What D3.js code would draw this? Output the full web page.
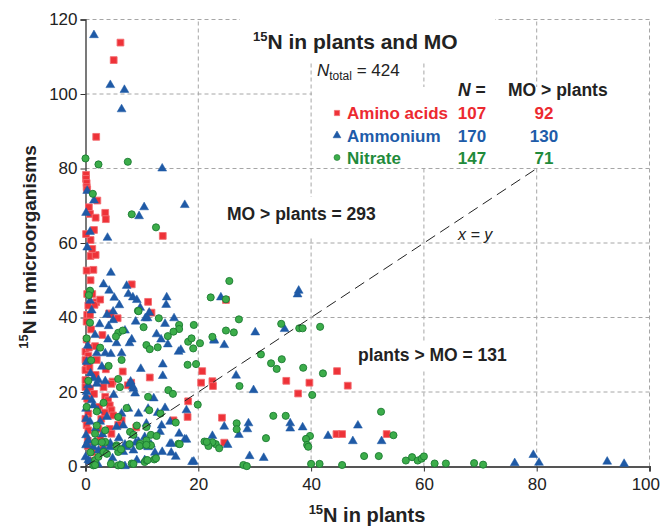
<!DOCTYPE html>
<html>
<head>
<meta charset="utf-8">
<script src="https://cdn.jsdelivr.net/npm/d3@7"></script>
<style>
  body { margin: 0; background: #fff; }
  svg { font-family: "Liberation Sans", Arial, sans-serif; }
</style>
</head>
<body>
<svg id="chart" width="660" height="529"></svg>
<script>
// values, [15N in plants, 15N in microorganisms]
const aminoAcids = [
  [6.2,113.8],[5.0,109.1],[1.9,88.5],
  [0.1,78.3],[0.1,77.2],[0.2,76.1],[0.2,75],[0.3,74.4],
  [2.1,71.4],[0.6,69.6],[0.8,67.8],[3.5,68.1],[1.8,66.8],[3.6,66.4],[13.7,61.9],[1.5,63.5],[0.9,60.8],[0.9,56.5],[1.8,56.8],[1.4,52.8],[0.9,50],[8.2,48.9],
  [0.3,46.3],[1.2,46.3],[1.9,44.1],[1.6,43.4],[11.1,44.2],[11.7,41.3],[0.3,40.7],[0.8,40.7],[4.2,41.1],[4.5,40.9],[5.7,39.8],[0.2,38.9],[24.9,44.7],
  [3.0,35.3],[0.2,34.1],[1.7,32.3],[0,30.8],[0.5,29.7],[0,28.6],[0.2,27.2],[0,25.9],[2,28.6],[3.6,26.1],[6.6,25.5],
  [20.7,25.6],[11.4,23.9],[4.8,22.8],[8.1,22.5],[20.5,22.5],[22.5,22.9],[22.6,21.6],[0,23.2],
  [0,21.3],[0.8,20.9],[3.2,21.3],[4.6,22.2],
  [3.5,18.7],[4.0,17.8],[4.3,16.4],[4.6,15.1],[4.9,13.7],
  [0.5,14.2],[0,12.8],[0.2,11.1],[0.5,9.7],[2.3,10.1],[4.3,10.1],[4.6,8.8],[6.4,12.4],
  [18.2,17.5],[18.1,13.3],[15.6,12.4],
  [35.6,23],[39.7,22.5],[46.5,21.7],[44.6,25.6],[37.7,19.6],[24.2,13.1],[44.5,8.7],[45.5,8.7],[53.4,8.7],[24.6,6.4],
  [0.4,5.5],[1.2,3.8],[2.6,7.2],[0.9,1.5],[1.5,19.5],[2.4,16],[0.3,18.2],[1.0,36.8],[0.5,43.2],[2.8,12.8],
  [5.8,11.2],[3.4,14.5],[1.8,24.6],[0.6,31.9],[0.2,52.6],[1.2,58.4],[2.6,44.8],[0.1,62.4],[0.4,6.9],[3.1,4.6],
  [7.5,21.8],[9.0,10.5],[0.7,26.6]
];
const ammonium = [
  [1.5,115.8],[4.4,102.4],[6.9,101.1],[6.4,95.9],[13.6,80],
  [0.3,74],[1.5,71.4],[10.4,69.6],[17.6,70.2],[0.1,68.1],[9.5,67.2],[0.8,63],[3.9,61.4],[4.5,52],
  [3.2,48.9],[7.3,48.5],[4.2,47.2],[7.6,46.3],[5.1,45.3],[8.4,45.4],[9.1,44.7],[14.4,45.4],[14.3,43.4],[0.8,44.5],[9.7,42.6],[11.3,41.3],[3.8,40.7],[4.9,41.6],
  [24,45.4],[37.6,46.2],[37.8,47.2],[35.3,36.9],[30.1,36],[22.8,34],[24.6,32.6],[26.7,24.4],[29.8,20.5],
  [24.6,10.7],[27.2,8.5],[28.9,11.6],[28.7,10],[36.3,11.6],[36.3,10.2],[38.5,10.5],[43,8.2],[48.3,11],[47.4,6.8],[52.5,6.8],[25.2,5.8],[29.1,2.8],[31.6,2.3],
  [76.1,0.9],[79.4,3.1],[80.4,1],[92.5,1.3],[95.5,0.7],
  [4.9,39.3],[4.1,37.7],[8.9,38.9],[10.6,39.8],[11,39.8],[15.7,39.8],[14.1,38.3],[1.7,35.3],[7,36.5],[8.2,34.1],
  [7.8,33.1],[12.6,35.5],[13.4,34.1],[14.6,32.8],[2,30.4],[3.5,30.4],[4.5,30.2],[6.4,30.4],[0.2,28.1],[16.5,30.8],
  [16.9,31.3],[22.8,33.8],[13.7,27.4],[13.7,24.3],[0.9,25],[1.4,23.7],[2.3,23.2],[3.5,22.9],[8,22.8],[8.4,21.4],
  [4,34.1],[5.5,33.1],
  [0.5,21.8],[2,22.2],[7.9,22.2],[8.5,20.9],[0.2,20],[0.1,18.7],[1.1,17.8],[1.4,16.4],[0.1,15.5],[6.4,14.2],
  [7.6,15.5],[9.4,14.2],[11.1,15.5],[0.1,12.8],[0.8,12],[2.6,12],[5.5,10.6],[6.7,11],[8.5,8.4],[9.4,6.6],
  [10.5,7.9],[0.1,8.4],[0.5,7],[0.1,5.7],[1.4,5.2],[2.3,4.3],[3.2,4.8],[4.3,5.2],[6.7,3.9],[7.3,5.2],
  [8.5,4.3],[0,2.5],[0.5,1.7],[6.1,0.3],[7,0.1],[9.1,1.7],[10.5,1.7],[11.1,5.2],
  [12.8,14.4],[14.1,15.7],[17.9,15.1],[15,12],[10.8,11.5],[13.5,11],[13.2,9.3],[16.6,8.8],[17.6,7.3],[15,6.1],
  [12.3,3.7],[13.6,3.9],[15.2,3.7],[16,2.6],[18.9,1.2],[22.5,8.2],[19.2,1.3],[8.8,19.6],
  [0.2,6],[1.7,6.5],[4.4,6.2],[7.0,5.9],[8.9,6.4],[10.4,5.5],[11.6,5.9],[15.3,6.1],[17.9,7.2],[0.8,1.3],[2.2,0.6],
  [1.8,10.2],[3.8,13.3],[5.0,19.2],[2.9,26.8],[0.4,32.4],[1.1,41.9],[6.0,43.3],[2.5,38.2],[12.1,18.3],[9.8,26.2],
  [0.3,58.8],[2.2,15],[3.0,8.6],[4.8,2.2],[5.9,7.6]
];
const nitrate = [
  [0,82.7],[2.3,81.1],[7.5,81.8],[1.3,73.2],[8.2,67.7],[12.5,64.2],
  [0.8,47.2],[0.6,46],[22.2,45.4],[9.3,41.8],[13,39.8],[25.5,49.8],[24.9,44.9],[27.2,39.5],
  [34.7,38.3],[37.9,37.1],[38.5,37.1],[41.6,37.5],[24.9,36.5],[26.3,36],[22.5,34.8],[31.1,30.1],[32.9,27.7],[34.8,28.8],
  [33.9,26.2],[38.6,26.5],[42.1,25],[27.3,21.6],[40.2,19.2],[52.4,14.7],[33.3,13.6],[35.5,13.6],[26.8,11.6],[26.8,10],
  [39.8,8.2],[39.1,7.4],[39.3,5.8],[39.5,5.3],[32,7.6],[23.1,6],[23.7,4.9],[22.5,6.5],[49.4,2.8],[52,2.8],
  [28,0.4],[28.6,0.1],[40,0.7],[41.5,0.7],[45.5,0.4],
  [54.6,8.4],[56.8,1.6],[57.9,2.5],[58.9,1.6],[59.6,2.1],[60,2.7],[61.9,0.8],[63.9,0.8],[68.9,0.9],[70.5,0.5],
  [0.8,38.6],[9.4,41.7],[10.3,37.4],[5.8,35.9],[5.4,34.9],[6.6,36.5],[2.6,31.9],[6.4,28.6],[5.8,23.5],[0.2,34.4],
  [16.6,38],[16.6,36.9],[15.6,36.2],[19.2,38],[14.6,35],[10.8,32.6],[11.4,31.5],[12.8,32],[18.2,33.5],[18.8,34.4],
  [20.3,33.1],[19.1,31.7],[18.1,27.3],[19.6,27.5],
  [6.1,21.3],[11.1,18.7],[0.2,16],[2,14.8],[3.2,17.1],[5.8,13.3],[7.3,15.7],[9.1,11],[7.9,9.3],[8.5,8.5],
  [9.7,6.1],[5.5,5.7],[1.7,8.8],[1.7,6.6],[3.5,6.6],[3.5,9.7],[2,11],[3.2,3.9],[3.8,3.4],[5.8,3.9],
  [1.7,1.7],[1.4,0.3],[5.8,0.3],[8.2,0.8],[10.5,1.2],
  [19.9,16.6],[16,11.8],[10.8,10.6],[11.6,8.5],[12.6,8.2],[16.5,6.1],[10.8,7],[11.6,5.7],[12.2,1.9],[10.8,1.7],
  [21.1,6.7],[21.8,5.5],
  [1.7,0.4],[4.5,0.7],[6.3,0.4],[8.5,0.7],[11,1.7],[12.5,2.2],[2.3,2.6],
  [2.9,6.5],[5.5,5.3],[6.3,4.6],[7.8,6],[9.6,5.5],[10.8,5.8],[16.7,6],[21.5,6.6],
  [0.5,23],[1.0,28.5],[4.1,27],[14.7,20.5],[11.3,15.1],[0.9,3.8],[13.3,14.2],[15.5,19.5]
];

const xTicks = [0, 20, 40, 60, 80, 100];
const yTicks = [0, 20, 40, 60, 80, 100, 120];
const seriesNames = ['Amino acids', 'Ammonium', 'Nitrate'];
const seriesN = [107, 170, 147];
const seriesMOgtPlants = [92, 130, 71];
const nTotal = 424;
const moGtPlants = 293;
const plantsGtMo = 131;

const svg = d3.select('#chart');
const xScale = d3.scaleLinear().domain([0, 100]).range([85.5, 649.5]);
const yScale = d3.scaleLinear().domain([0, 120]).range([466.5, 19.5]);

const colors = {
  fill: ['#ee3238', '#1f5aa6', '#3cad4a'],
  stroke: ['#f36c70', '#1f5aa6', '#1c7a32'],
  text: ['#ec2a30', '#1e5ca9', '#1f8b3b']
};

// grid
const grid = svg.append('g').attr('stroke', '#a6a6a6').attr('stroke-dasharray', '4,3').attr('stroke-width', 1);
grid.selectAll('.h').data(yTicks.filter(d => d > 0)).join('line')
  .attr('x1', xScale(0)).attr('x2', xScale(100))
  .attr('y1', d => yScale(d)).attr('y2', d => yScale(d));
grid.selectAll('.v').data(xTicks.filter(d => d > 0)).join('line')
  .attr('y1', yScale(0)).attr('y2', yScale(120))
  .attr('x1', d => xScale(d)).attr('x2', d => xScale(d));

// axes
const yAxis = svg.append('g').attr('transform', `translate(${xScale(0)},0)`)
  .call(d3.axisLeft(yScale).tickValues(yTicks).tickSize(5).tickPadding(3));
const xAxis = svg.append('g').attr('transform', `translate(0,${yScale(0)})`)
  .call(d3.axisBottom(xScale).tickValues(xTicks).tickSize(5).tickPadding(6));
[xAxis, yAxis].forEach(a => {
  a.select('.domain').attr('stroke', '#333').attr('stroke-width', 1.3);
  a.selectAll('.tick line').attr('stroke', '#333');
  a.selectAll('.tick text').attr('font-size', 17).attr('fill', '#222')
    .attr('font-family', '"Liberation Sans", Arial, sans-serif');
});
xAxis.select('.domain').attr('stroke', '#555').attr('stroke-width', 2);
// the last label sits at the page edge, keep it inside
xAxis.selectAll('.tick text').filter(d => d === 100).attr('text-anchor', 'end').attr('x', 10);

// marks
const shapes = [d3.symbolSquare, d3.symbolTriangle, d3.symbolCircle];
const sizes = [46, 34, 40];
[aminoAcids, ammonium, nitrate].forEach((data, i) => {
  svg.append('g').selectAll('path').data(data).join('path')
    .attr('transform', d => `translate(${xScale(d[0])},${yScale(d[1])})`)
    .attr('d', d3.symbol(shapes[i], sizes[i]))
    .attr('fill', colors.fill[i])
    .attr('stroke', colors.stroke[i])
    .attr('stroke-width', i === 1 ? 0.5 : 0.9);
});

// x = y line
svg.append('line')
  .attr('x1', xScale(0)).attr('y1', yScale(0))
  .attr('x2', xScale(80)).attr('y2', yScale(80))
  .attr('stroke', '#222').attr('stroke-width', 1).attr('stroke-dasharray', '11,6');

// white text boxes
const boxes = [[240, 10, 255, 52], [312, 87, 336, 79], [222, 197, 172, 41], [352, 341, 172, 29]];
svg.append('g').selectAll('rect').data(boxes).join('rect')
  .attr('x', d => d[0]).attr('y', d => d[1]).attr('width', d => d[2]).attr('height', d => d[3])
  .attr('fill', '#fff');

// title
const title = svg.append('text').attr('x', 253).attr('y', 49)
  .attr('font-size', 21).attr('font-weight', 'bold').attr('fill', '#222');
title.append('tspan').attr('font-size', 13).attr('dy', -8).text('15');
title.append('tspan').attr('dy', 8).text('N in plants and MO');

const ntot = svg.append('text').attr('x', 317).attr('y', 76).attr('font-size', 17).attr('fill', '#222');
ntot.append('tspan').attr('font-style', 'italic').text('N');
ntot.append('tspan').attr('font-size', 12).attr('dy', 4).text('total');
ntot.append('tspan').attr('dy', -4).text(' = ' + nTotal);

// legend table
const hdr = svg.append('g').attr('font-size', 17.5).attr('font-weight', 'bold').attr('fill', '#222');
const hn = hdr.append('text').attr('x', 458).attr('y', 96);
hn.append('tspan').attr('font-style', 'italic').text('N');
hn.append('tspan').text(' =');
hdr.append('text').attr('x', 508).attr('y', 96).text('MO > plants');

const rowY = [119, 141.5, 163.5];
seriesNames.forEach((name, i) => {
  const g = svg.append('g').attr('font-size', 17).attr('font-weight', 'bold').attr('fill', colors.text[i]);
  g.append('path').attr('transform', `translate(337,${rowY[i] - 6})`)
    .attr('d', d3.symbol(shapes[i], i === 1 ? 26 : 28))
    .attr('fill', colors.fill[i]).attr('stroke', colors.stroke[i]).attr('stroke-width', 0.6);
  g.append('text').attr('x', 347).attr('y', rowY[i]).text(name);
  g.append('text').attr('x', 472).attr('y', rowY[i]).attr('text-anchor', 'middle').text(seriesN[i]);
  g.append('text').attr('x', 544).attr('y', rowY[i]).attr('text-anchor', 'middle').text(seriesMOgtPlants[i]);
});

// annotations
svg.append('text').attr('x', 227).attr('y', 220).attr('font-size', 17.5).attr('font-weight', 'bold')
  .attr('fill', '#222').text('MO > plants = ' + moGtPlants);
svg.append('text').attr('x', 358).attr('y', 361).attr('font-size', 17.5).attr('font-weight', 'bold')
  .attr('fill', '#222').text('plants > MO = ' + plantsGtMo);
svg.append('text').attr('x', 458).attr('y', 240).attr('font-size', 16).attr('font-style', 'italic')
  .attr('fill', '#222').text('x = y');

// axis titles
const xt = svg.append('text').attr('x', 367).attr('y', 522).attr('text-anchor', 'middle')
  .attr('font-size', 20).attr('font-weight', 'bold').attr('fill', '#222');
xt.append('tspan').attr('font-size', 13).attr('dy', -8).text('15');
xt.append('tspan').attr('dy', 8).text('N in plants');

const yt = svg.append('text').attr('transform', 'translate(36,247) rotate(-90)').attr('text-anchor', 'middle')
  .attr('font-size', 19).attr('font-weight', 'bold').attr('fill', '#222');
yt.append('tspan').attr('font-size', 13).attr('dy', -8).text('15');
yt.append('tspan').attr('dy', 8).text('N in microorganisms');
</script>
</body>
</html>
